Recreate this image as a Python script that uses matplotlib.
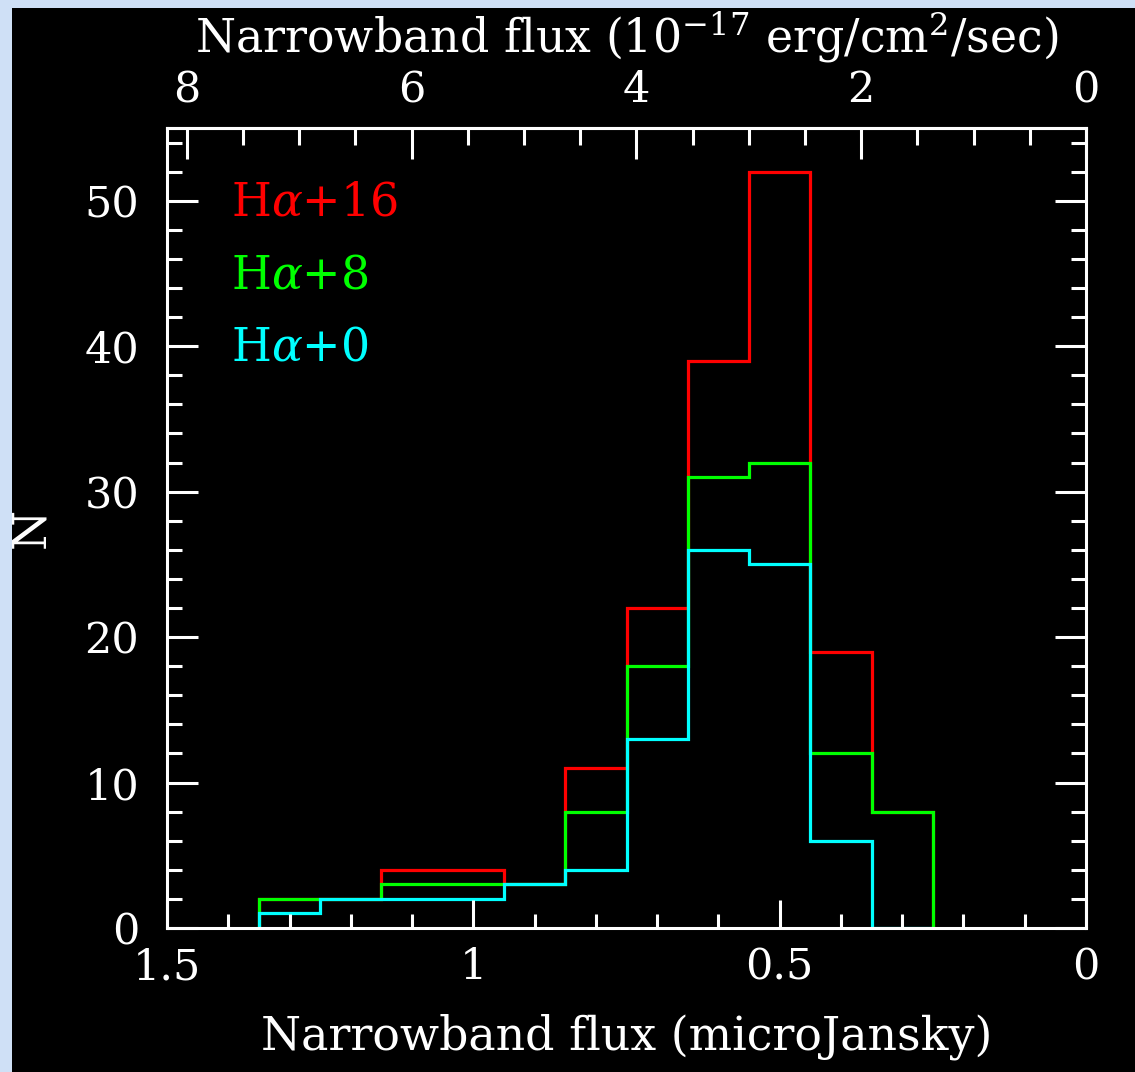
import matplotlib
matplotlib.use('Agg')
import matplotlib.pyplot as plt
from matplotlib.ticker import MultipleLocator
from matplotlib.patches import Rectangle

# bin edges in microJansky (low flux -> high flux)
bin_edges = [0.25, 0.35, 0.45, 0.55, 0.65, 0.75, 0.85, 0.95, 1.05, 1.15, 1.25, 1.35]

# counts per bin, same order as the edges
counts_ha16 = [8, 19, 52, 39, 22, 11, 3, 4, 4, 2, 2]
counts_ha8 = [8, 12, 32, 31, 18, 8, 3, 3, 3, 2, 2]
counts_ha0 = [0, 6, 25, 26, 13, 4, 3, 2, 2, 2, 1]

series_labels = [r'H$\alpha$+16', r'H$\alpha$+8', r'H$\alpha$+0']
series_colors = ['#ff0000', '#00ff00', '#00ffff']

# conversion microJansky -> 1e-17 erg/cm2/sec
UJY_TO_ERG = 5.45

plt.rcParams['font.family'] = 'DejaVu Serif'
plt.rcParams['mathtext.fontset'] = 'dejavuserif'

fig = plt.figure(figsize=(11.35, 10.72), dpi=100)
fig.patch.set_facecolor('#cfe0f6')
# black panel over the light blue page background
panel = Rectangle((12 / 1135, 0), 1, 1 - 8 / 1072, transform=fig.transFigure,
                  facecolor='black', edgecolor='none', zorder=-5)
fig.add_artist(panel)

ax = fig.add_axes([167 / 1135, 1 - 928 / 1072, 919 / 1135, 800 / 1072])
ax.set_facecolor('black')

for counts, col in zip([counts_ha16, counts_ha8, counts_ha0], series_colors):
    ax.stairs(counts, bin_edges, baseline=0, color=col, linewidth=2.3)

ax.set_xlim(1.5, 0)
ax.set_ylim(0, 55)

fs = 33
tfs = 31
for s in ax.spines.values():
    s.set_color('white')
    s.set_linewidth(2.2)

ax.xaxis.set_minor_locator(MultipleLocator(0.1))
ax.yaxis.set_major_locator(MultipleLocator(10))
ax.yaxis.set_minor_locator(MultipleLocator(2))
ax.set_xticks([1.5, 1, 0.5, 0])
ax.set_xticklabels(['1.5', '1', '0.5', '0'])

ax.tick_params(axis='x', which='both', direction='in', colors='white', width=2.2,
               top=False, bottom=True, labelsize=tfs, pad=13)
ax.tick_params(axis='x', which='major', length=20)
ax.tick_params(axis='x', which='minor', length=10)
ax.tick_params(axis='y', which='both', direction='in', colors='white', width=2.2,
               left=True, right=True, labelsize=tfs, pad=20)
ax.tick_params(axis='y', which='major', length=22)
ax.tick_params(axis='y', which='minor', length=11)

ax.set_xlabel('Narrowband flux (microJansky)', color='white', fontsize=fs, labelpad=18)
ax.set_ylabel('N', color='white', fontsize=fs, labelpad=22)

sec = ax.secondary_xaxis('top', functions=(lambda x: x * UJY_TO_ERG, lambda x: x / UJY_TO_ERG))
sec.set_xticks([0, 2, 4, 6, 8])
sec.xaxis.set_minor_locator(MultipleLocator(0.5))
sec.tick_params(axis='x', which='both', direction='in', colors='white', width=2.2,
                labelsize=tfs, pad=12)
sec.tick_params(axis='x', which='major', length=22)
sec.tick_params(axis='x', which='minor', length=12)
sec.spines['top'].set_color('white')
sec.spines['top'].set_linewidth(2.2)
sec.set_xlabel(r'Narrowband flux (10$^{-17}$ erg/cm$^{2}$/sec)', color='white',
               fontsize=fs, labelpad=12)

# legend as coloured text
for i, (lab, col) in enumerate(zip(series_labels, series_colors)):
    ax.text(0.07, 0.906 - i * 0.0905, lab, color=col, fontsize=fs,
            transform=ax.transAxes, va='center', ha='left')

fig.savefig('out.png', dpi=100, facecolor=fig.get_facecolor())
plt.close(fig)
